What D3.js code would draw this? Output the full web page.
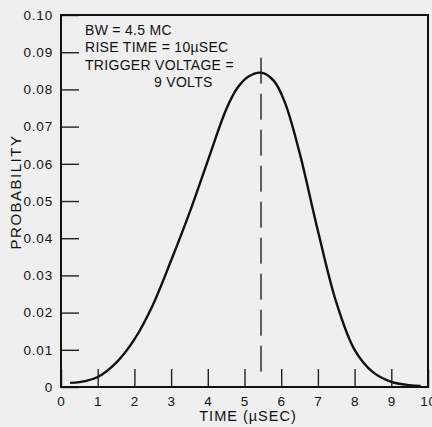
<!DOCTYPE html>
<html>
<head>
<meta charset="utf-8">
<script src="https://cdn.jsdelivr.net/npm/d3@7"></script>
<style>
  html, body { margin: 0; padding: 0; background: #efefef; }
  svg { display: block; font-family: "Liberation Sans", Arial, sans-serif; }
</style>
</head>
<body>
<svg width="432" height="427"></svg>
<script>
(function () {
    'use strict';

    // curve
    const times = [0.25, 0.5, 1, 1.5, 2, 2.5, 3, 3.5, 4, 4.5, 4.8, 5.1, 5.45, 5.8, 6.1, 6.5, 7, 7.5, 8, 8.5, 9, 9.5, 9.8];
    const probs = [0.0011, 0.0013, 0.0027, 0.0065, 0.0128, 0.022, 0.034, 0.0468, 0.0608, 0.0746, 0.0803, 0.0834, 0.0845,
                   0.0823, 0.0765, 0.063, 0.042, 0.0228, 0.0100, 0.0040, 0.0014, 0.0005, 0.0003];

    const xTicks = [0, 1, 2, 3, 4, 5, 6, 7, 8, 9, 10];
    const xLabels = ['0', '1', '2', '3', '4', '5', '6', '7', '8', '9', '10'];
    const yTicks = [0, 0.01, 0.02, 0.03, 0.04, 0.05, 0.06, 0.07, 0.08, 0.09, 0.10];
    const yLabels = ['0', '0.01', '0.02', '0.03', '0.04', '0.05', '0.06', '0.07', '0.08', '0.09', '0.10'];

    const meanTime = 5.45;
    const meanSpan = [0.003, 0.0885];

    const notes = ['BW = 4.5 MC', 'RISE TIME = 10\u00b5SEC', 'TRIGGER VOLTAGE =', '9 VOLTS'];

    const width = 432;
    const height = 427;
    const margin = ({ top: 15, right: 4, bottom: 40, left: 61 });

    const x = d3.scaleLinear()
        .domain([0, 10])
        .range([margin.left, width - margin.right]);

    const y = d3.scaleLinear()
        .domain([0, 0.10])
        .range([height - margin.bottom, margin.top]);

    const svg = d3.select('svg')
        .attr('viewBox', [0, 0, width, height]);

    const xAxis = g => g
        .attr('transform', `translate(0,${y(0)})`)
        .call(d3.axisBottom(x).tickValues(xTicks).tickSize(-18).tickPadding(9)
            .tickFormat((d, i) => xLabels[i]))
        .call(g => g.select('.domain').remove());

    const yAxis = g => g
        .attr('transform', `translate(${x(0)},0)`)
        .call(d3.axisLeft(y).tickValues(yTicks).tickSize(-18).tickPadding(8)
            .tickFormat((d, i) => yLabels[i]))
        .call(g => g.select('.domain').remove());

    const axes = svg.append('g').classed('axes', true);
    axes.append('g').call(xAxis);
    axes.append('g').call(yAxis);

    axes.selectAll('.tick line')
        .attr('stroke', '#222')
        .attr('stroke-width', 1.4);
    axes.selectAll('.tick text')
        .attr('fill', '#111')
        .attr('font-size', 13.5)
        .attr('letter-spacing', 0.8)
        .attr('font-family', '"Liberation Sans", Arial, sans-serif');

    // frame
    svg.append('rect')
        .attr('x', x(0))
        .attr('y', y(0.10))
        .attr('width', x(10) - x(0))
        .attr('height', y(0) - y(0.10))
        .attr('fill', 'none')
        .attr('stroke', '#111')
        .attr('stroke-width', 2);

    // dashed line at the peak
    svg.append('line')
        .attr('x1', x(meanTime)).attr('x2', x(meanTime))
        .attr('y1', y(meanSpan[1])).attr('y2', y(meanSpan[0]))
        .attr('stroke', '#222')
        .attr('stroke-width', 1.4)
        .attr('stroke-dasharray', '26,10');

    const line = d3.line()
        .x((d, i) => x(times[i]))
        .y(d => y(d))
        .curve(d3.curveCatmullRom.alpha(0.5));

    svg.append('path')
        .attr('d', line(probs))
        .attr('fill', 'none')
        .attr('stroke', '#111')
        .attr('stroke-width', 2.4);

    // notes block
    const noteX = [85, 85, 85, 154];
    svg.append('g')
        .selectAll('text')
        .data(notes)
        .join('text')
        .attr('x', (d, i) => noteX[i])
        .attr('y', (d, i) => 35 + i * 17.4)
        .attr('font-size', 14)
        .attr('letter-spacing', 0.3)
        .attr('fill', '#111')
        .text(d => d);

    // titles
    svg.append('text')
        .attr('x', 248)
        .attr('y', 421)
        .attr('text-anchor', 'middle')
        .attr('font-size', 14.5)
        .attr('letter-spacing', 1)
        .attr('fill', '#111')
        .text('TIME (\u00b5SEC)');

    svg.append('text')
        .attr('transform', 'translate(21,192) rotate(-90)')
        .attr('text-anchor', 'middle')
        .attr('font-size', 15)
        .attr('letter-spacing', 1.5)
        .attr('fill', '#111')
        .text('PROBABILITY');
})();
</script>
</body>
</html>
